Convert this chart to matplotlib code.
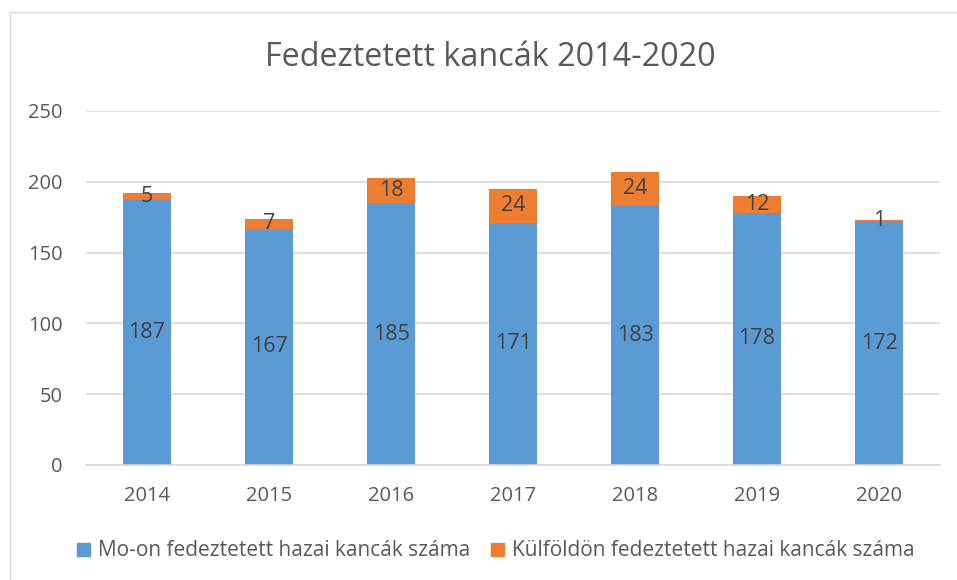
import matplotlib
matplotlib.use("Agg")
import matplotlib.pyplot as plt
from matplotlib.patches import Rectangle
from matplotlib.lines import Line2D

years = ["2014", "2015", "2016", "2017", "2018", "2019", "2020"]
domestic = [187, 167, 185, 171, 183, 178, 172]
abroad = [5, 7, 18, 24, 24, 12, 1]
series_names = ["Mo-on fedeztetett hazai kancák száma", "Külföldön fedeztetett hazai kancák száma"]
title = "Fedeztetett kancák 2014-2020"

plt.rcParams['font.family'] = ['Open Sans', 'DejaVu Sans']
BLUE = "#5B9BD5"
ORANGE = "#ED7D31"
TXT = "#595959"
LBL = "#404040"

fig = plt.figure(figsize=(9.57, 5.8), dpi=100)
ax = fig.add_axes([86/957, 1-465/580, (940-86)/957, (465-111)/580])

x = list(range(len(years)))
w = 0.39
ax.bar(x, domestic, width=w, color=BLUE, zorder=2)
ax.bar(x, abroad, width=w, bottom=domestic, color=ORANGE, zorder=2)

for i in x:
    ax.text(i, domestic[i]/2, str(domestic[i]), ha='center', va='center', fontsize=15.5, color=LBL, zorder=3)
    ax.text(i, domestic[i] + abroad[i]/2, str(abroad[i]), ha='center', va='center', fontsize=15.5, color=LBL, zorder=3)

ax.set_xlim(-0.5, len(years)-0.5)
ax.set_ylim(0, 250)
ax.set_yticks([0, 50, 100, 150, 200, 250])
ax.set_xticks(x)
ax.set_xticklabels(years)
ax.yaxis.grid(True, color="#D9D9D9", linewidth=1.2, zorder=0)
ax.set_axisbelow(True)
for s in ['top', 'right', 'left']:
    ax.spines[s].set_visible(False)
ax.spines['bottom'].set_color("#D9D9D9")
ax.spines['bottom'].set_linewidth(1.2)
ax.tick_params(axis='both', length=0, labelsize=14.5, labelcolor=TXT)
ax.tick_params(axis='y', pad=17)
ax.tick_params(axis='x', pad=15)

fig.text(490/957, 1-57/580, title, ha='center', va='center', fontsize=23.3, color=TXT)

handles = [Rectangle((0, 0), 1, 1, color=BLUE), Rectangle((0, 0), 1, 1, color=ORANGE)]
fig.legend(handles, series_names, loc='center', bbox_to_anchor=(496/957, 1-551/580),
           ncol=2, frameon=False, fontsize=15, labelcolor=TXT, handlelength=0.6,
           handleheight=0.6, handletextpad=0.4, columnspacing=1.0)

# chart border
fig.add_artist(Line2D([10/957, 10/957], [0, 1-12/580], transform=fig.transFigure, color="#D9D9D9", linewidth=1))
fig.add_artist(Line2D([10/957, 1], [1-12/580, 1-12/580], transform=fig.transFigure, color="#D9D9D9", linewidth=1))

fig.savefig("out.png", dpi=100)
